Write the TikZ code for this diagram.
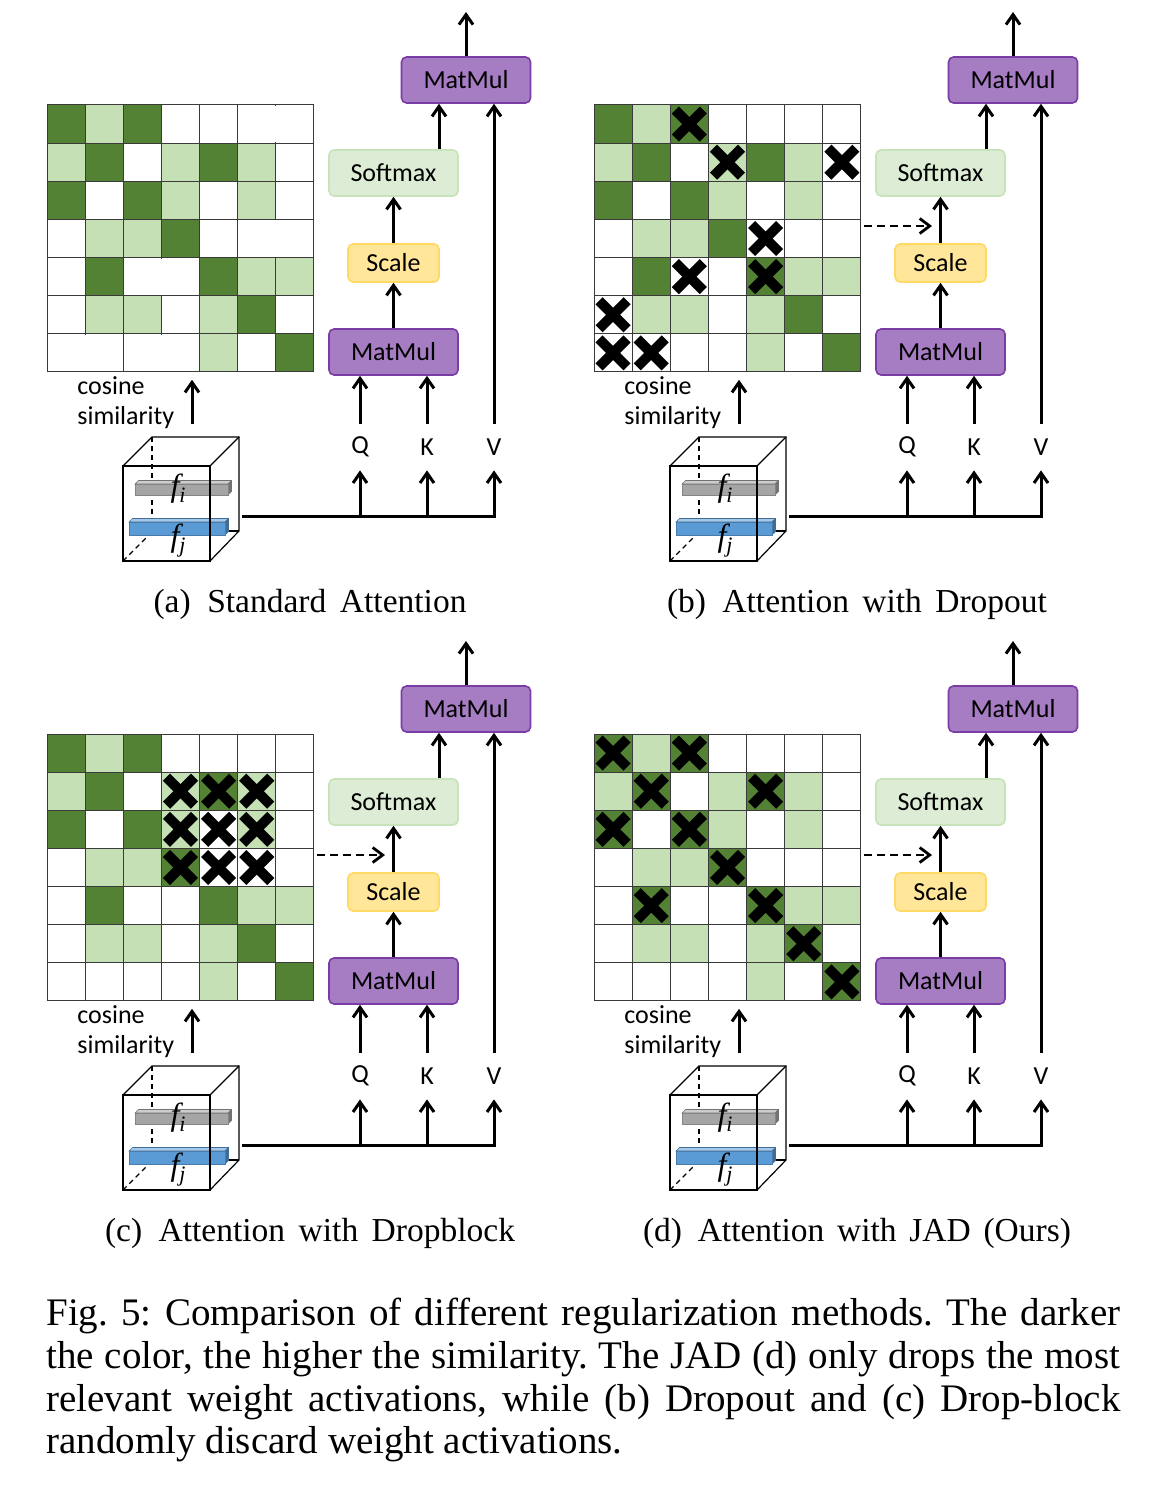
\documentclass[tikz,border=0pt]{standalone}
\usepackage{amsmath}
\usepackage{fontspec}
\setmainfont{Liberation Serif}
\newfontfamily\boxFont{Carlito}
\usetikzlibrary{arrows.meta}
\definecolor{simDark}{HTML}{548235}
\definecolor{simLight}{HTML}{C5E0B4}
\definecolor{gridColor}{HTML}{3A3A3A}
\definecolor{matMulFill}{HTML}{A67CC2}
\definecolor{matMulLine}{HTML}{7A3DA6}
\definecolor{softmaxFill}{HTML}{DDEDD5}
\definecolor{softmaxLine}{HTML}{C8E2B9}
\definecolor{scaleFill}{HTML}{FFE699}
\definecolor{scaleLine}{HTML}{FFD966}
\definecolor{barGray}{HTML}{A5A5A5}
\definecolor{barBlue}{HTML}{5B9BD5}
\tikzstyle{opBox} = [rounded corners=2.5pt, line width=0.8pt, inner sep=0, font=\boxFont\fontsize{13}{15}\selectfont, minimum height=23pt, minimum width=64.5pt]
\tikzstyle{matMulStyle} = [opBox, fill=matMulFill, draw=matMulLine]
\tikzstyle{softmaxStyle} = [opBox, fill=softmaxFill, draw=softmaxLine]
\tikzstyle{scaleStyle} = [opBox, fill=scaleFill, draw=scaleLine, minimum width=45.5pt, minimum height=19pt]
\tikzstyle{qkvLabel} = [inner sep=0, minimum height=23pt, font=\boxFont\fontsize{13}{15}\selectfont]
\tikzstyle{simLabel} = [inner sep=0, anchor=west, align=left, font=\boxFont\fontsize{13}{15}\selectfont]
\tikzstyle{featLabel} = [inner sep=0, font=\itshape\fontsize{16}{18}\selectfont]
\tikzstyle{flow} = [line width=1.5pt, -{Straight Barb[length=5pt, width=7pt]}]
\tikzstyle{dropFlow} = [line width=1.4pt, dash pattern=on 4pt off 2.5pt, -{Straight Barb[length=5pt, width=7.5pt]}]
\tikzstyle{gridLine} = [color=gridColor, line width=0.5pt]
\tikzstyle{cubeLine} = [line width=0.6pt]
\tikzstyle{hiddenEdge} = [line width=0.6pt, dash pattern=on 2.5pt off 2pt]
\tikzstyle{crossStyle} = [line width=5pt, line cap=butt]
\tikzstyle{subCaption} = [inner sep=0, anchor=base, font=\fontsize{16.75}{20}\selectfont]
\newcommand{\cellSize}{38.14}
\newcommand{\featSub}[1]{\raisebox{-3pt}{\fontsize{11}{12}\selectfont #1}}
\newcommand{\simCell}[3]{\fill [#3] (47 + #2 * \cellSize, 105 + #1 * \cellSize) rectangle + (\cellSize, \cellSize);}
\newcommand{\dropCross}[2]{
  \coordinate (crossCenter) at (47 + #2 * \cellSize + \cellSize / 2, 105 + #1 * \cellSize + \cellSize / 2);
  \draw [crossStyle] ([shift={(-14,-14)}]crossCenter) -- ([shift={(14,14)}]crossCenter);
  \draw [crossStyle] ([shift={(-14,14)}]crossCenter) -- ([shift={(14,-14)}]crossCenter);
}
\newcommand{\simGrid}{
  \foreach \row/\column in {0/0,0/2,1/1,1/4,2/0,2/2,3/3,4/1,4/4,5/5,6/6} {\simCell{\row}{\column}{simDark}}
  \foreach \row/\column in {0/1,1/0,1/3,1/5,2/3,2/5,3/1,3/2,4/5,4/6,5/1,5/2,5/4,6/4} {\simCell{\row}{\column}{simLight}}
  \foreach \gridIndex in {0,...,7} {
    \draw [gridLine] (47 + \gridIndex * \cellSize, 105) -- + (0, 7 * \cellSize);
    \draw [gridLine] (47, 105 + \gridIndex * \cellSize) -- + (7 * \cellSize, 0);
  }
  \node [minimum size=133.5pt, inner sep=0, anchor=north west] (simGrid) at (47,105) {};
}
\newcommand{\featureBar}[5]{
  \filldraw [fill=#5!55!white, draw=#5!70!black, line width=0.3pt] (#1,#2) -- (#1 + 3.5,#2 - 3.5) -- (#3 + 3.5,#2 - 3.5) -- (#3,#2) -- cycle;
  \filldraw [fill=#5!70!black, draw=#5!70!black, line width=0.3pt] (#3,#2) -- (#3 + 3.5,#2 - 3.5) -- (#3 + 3.5,#4 - 3.5) -- (#3,#4) -- cycle;
  \filldraw [fill=#5, draw=#5!80!black, line width=0.3pt] (#1,#2) rectangle (#3,#4);
}
\newcommand{\featureCube}{
  \draw [hiddenEdge] (152,437) -- (152,522);
  \draw [hiddenEdge] (123,561) -- (149,535);
  \draw [cubeLine] (152,531) -- (239,531);
  \featureBar{135}{484}{228}{495}{barGray}
  \featureBar{129}{522}{225}{535}{barBlue}
  \draw [cubeLine] (123,466) rectangle (210,561);
  \draw [cubeLine] (123,466) -- (152,437) -- (239,437) -- (239,531) -- (210,561);
  \draw [cubeLine] (210,466) -- (239,437);
  \node [minimum width=43.5pt, minimum height=47.5pt, inner sep=0] (cube) at (166.5,513.5) {};
  \node [featLabel] (fi) at (178,489) {f\featSub{i}};
  \node [featLabel] (fj) at (178,541) {f\featSub{j}};
}
\newcommand{\attentionPanel}[2]{
  \simGrid
  \featureCube
  \node [matMulStyle] (matMulTop) at (466,80) {MatMul};
  \node [softmaxStyle] (softmax) at (393.5,173) {Softmax};
  \node [scaleStyle] (scale) at (393.5,263) {Scale};
  \node [matMulStyle] (matMulBottom) at (393.5,352) {MatMul};
  \node [qkvLabel] (query) at (360,447) {Q};
  \node [qkvLabel] (key) at (427,447) {K};
  \node [qkvLabel] (value) at (494,447) {V};
  \node [simLabel] (simText) at (77,403) {cosine\\similarity};
  \node [subCaption] (caption) at (310,612) {\makebox[#2][s]{#1}};
  \coordinate (output) at (466,12);
  \coordinate (featStart) at (242,516);
  \coordinate (simStart) at (192,424);
  \draw [flow] (matMulTop) -- (output);
  \draw [flow] ([xshift=22.75pt]softmax.north) -- ([xshift=22.75pt]softmax.north |- matMulTop.south);
  \draw [flow] (scale) -- (softmax);
  \draw [flow] (matMulBottom) -- (scale);
  \draw [flow] (query.north) -- (query.north |- matMulBottom.south);
  \draw [flow] (key.north) -- (key.north |- matMulBottom.south);
  \draw [flow] (value.north) -- (value.north |- matMulTop.south);
  \draw [flow] (featStart) -| (value.south);
  \draw [flow] (featStart -| query.south) -- (query.south);
  \draw [flow] (featStart -| key.south) -- (key.south);
  \draw [flow, shorten >=3.5pt] (simStart) -- (simStart |- simGrid.south);
}
\newcommand{\dropArrow}{
  \coordinate (dropTarget) at (385,226);
  \draw [dropFlow, shorten <=1pt] (simGrid.east |- dropTarget) -- (dropTarget);
}

\begin{document}
\frenchspacing
\begin{tikzpicture}[x=0.5pt, y=-0.5pt]
  \useasboundingbox (0,0) rectangle (1150,1486);
  \begin{scope}[name prefix=a-]
    \attentionPanel{(a)\kern1.5pt{} Standard Attention}{156.5pt}
    \foreach \row/\column in {0/5,3/5,4/2,6/0,6/2} {\draw [white, line width=1pt] (47 + \column * \cellSize + \cellSize, 106 + \row * \cellSize) -- + (0, \cellSize - 2);}
  \end{scope}
  \begin{scope}[shift={(547,0)}, name prefix=b-]
    \attentionPanel{(b)\kern1.5pt{} Attention with Dropout}{190pt}
    \foreach \row/\column in {0/2,1/3,1/6,3/4,4/2,4/4,5/0,6/0,6/1} {\dropCross{\row}{\column}}
    \dropArrow
  \end{scope}
  \begin{scope}[shift={(0,629)}, name prefix=c-]
    \attentionPanel{(c)\kern1.5pt{} Attention with Dropblock}{205pt}
    \foreach \row in {1,2,3} {\foreach \column in {3,4,5} {\dropCross{\row}{\column}}}
    \dropArrow
  \end{scope}
  \begin{scope}[shift={(547,629)}, name prefix=d-]
    \attentionPanel{(d)\kern1.5pt{} Attention with JAD (Ours)}{214pt}
    \foreach \row/\column in {0/0,0/2,1/1,1/4,2/0,2/2,3/3,4/1,4/4,5/5,6/6} {\dropCross{\row}{\column}}
    \dropArrow
  \end{scope}
  \node [anchor=north west, inner sep=0, text width=537pt, align=justify, font=\fontsize{19.5}{21.35}\selectfont] (figCaption) at (46,1298) {Fig.~5: Comparison of different regularization methods. The darker\linebreak the color, the higher the similarity. The JAD (d) only drops the most\linebreak relevant weight activations, while (b) Dropout and (c) Drop-block\linebreak randomly discard weight activations.};
\end{tikzpicture}
\end{document}
